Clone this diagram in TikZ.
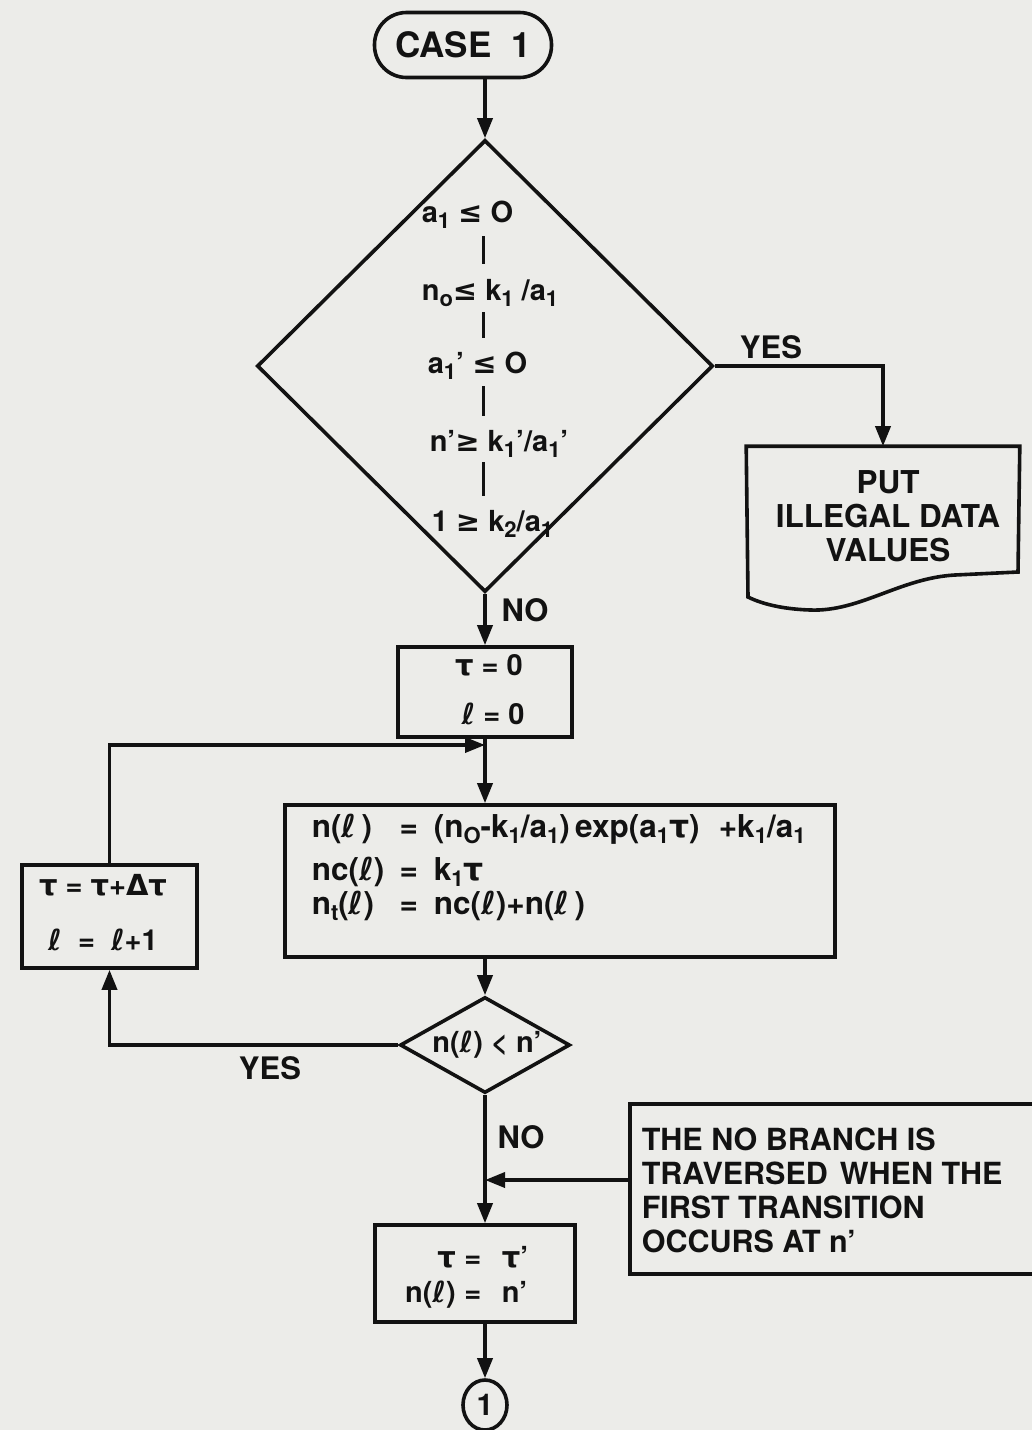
\documentclass[tikz,border=0pt]{standalone}
\usepackage{fontspec}
\setmainfont{TeX Gyre Heros}
\newfontfamily\dv{DejaVu Sans}
\usetikzlibrary{shapes.geometric,arrows.meta,calc}
\definecolor{paper}{RGB}{236,236,233}
\definecolor{ink}{RGB}{18,18,18}
\newcommand{\lo}[1]{\raisebox{-0.22em}{\fontsize{22}{22}\selectfont #1}}
\newcommand{\sy}[1]{{\dv #1}}
\newcommand{\el}{{\dv ℓ}}
\begin{document}
\begin{tikzpicture}[x=1pt,y=-1pt,line width=3.6pt,color=ink,
  box/.style={draw,rectangle,inner sep=0pt},
  arr/.style={-{Triangle[length=20pt,width=15pt]}},
  lab/.style={font=\fontsize{31}{34}\selectfont\bfseries,inner sep=0pt},
  txt/.style={font=\fontsize{29}{33}\selectfont\bfseries,inner sep=0pt},
  btxt/.style={font=\fontsize{31.5}{33}\selectfont\bfseries,inner sep=0pt}]
\fill[paper] (0,0) rectangle (1032,1430);
\useasboundingbox (0,0) rectangle (1032,1430);
\clip (0,0) rectangle (1032,1430);

% terminal
\node[box,rounded corners=32pt,minimum width=177pt,minimum height=65pt,
  font=\fontsize{35}{40}\selectfont\bfseries] (case) at (463,45) {CASE\ \ 1};

% big decision
\node[draw,diamond,minimum width=456pt,minimum height=452pt,inner sep=0pt] (dia) at (485,366) {};
\node[txt,anchor=base west] (c1) at (420,222) {a\lo{1} \sy{≤} O};
\node[txt,anchor=base west] (c2) at (420,300) {n\lo{o}\sy{≤} k\lo{1} /a\lo{1}};
\node[txt,anchor=base west] (c3) at (426,373) {a\lo{1}' \sy{≤} O};
\node[txt,anchor=base west] (c4) at (428,451) {n'\sy{≥} k\lo{1}'/a\lo{1}'};
\node[txt,anchor=base west] (c5) at (430,531) {1 \sy{≥} k\lo{2}/a\lo{1}};
\draw[line width=3pt] (483,236) -- (483,264);
\draw[line width=3pt] (483,312) -- (483,338);
\draw[line width=3pt] (483,386) -- (483,416);
\draw[line width=3pt] (483,462) -- (483,496);
\node[lab] (yes1) at (771,347) {YES};
\node[lab] (no1) at (525,610) {NO};

% illegal data document
\node[minimum width=270pt,minimum height=124pt,inner sep=0pt] (put) at (883,510) {};
\draw (put.north west) -- (put.north east) -- (1018,572) -- (955,575)
  .. controls (900,578) and (860,612) .. (810,610)
  .. controls (780,609) and (760,603) .. (748,597) -- cycle;
\node[lab,align=center,font=\fontsize{31.5}{34}\selectfont\bfseries] (putt) at (888,516) {PUT\\ILLEGAL\ DATA\\VALUES};

% tau = 0, l = 0
\node[box,minimum width=174pt,minimum height=90pt] (b1) at (485,692) {};
\node[txt,anchor=base] (b1a) at (489,675) {\sy{τ} = 0};
\node[txt,anchor=base] (b1b) at (493,724) {\el\ = 0};

% main computation
\node[box,minimum width=550pt,minimum height=152pt] (big) at (560,881) {};
\node[btxt,anchor=base west] (l1) at (310,837) {\makebox[84pt][l]{n(\el\,)}\makebox[26pt][c]{=}\hspace{12pt}(n\lo{O}-k\lo{1}/a\lo{1})\,exp(a\lo{1}\sy{τ})\,\, +k\lo{1}/a\lo{1}};
\node[btxt,anchor=base west] (l2) at (310,880) {\makebox[84pt][l]{nc(\el)}\makebox[26pt][c]{=}\hspace{12pt}k\lo{1}\sy{τ}};
\node[btxt,anchor=base west] (l3) at (310,914) {\makebox[84pt][l]{n\lo{t}(\el)}\makebox[26pt][c]{=}\hspace{12pt}nc(\el)+n(\el\,)};

% increment box
\node[box,minimum width=175pt,minimum height=103pt] (b2) at (109.5,916.5) {};
\node[txt,anchor=base] (b2a) at (103,895) {\sy{τ} = \sy{τ}+\sy{Δτ}};
\node[txt,anchor=base] (b2b) at (103,950) {\el\ \ = \ \el+1};

% small decision
\node[draw,diamond,minimum width=170pt,minimum height=96pt,inner sep=0pt] (sd) at (485,1045) {};
\node[txt] (sdt) at (487,1045) {n(\el) < n'};
\node[lab] (yes2) at (270,1068) {YES};
\node[lab] (no2) at (521,1137) {NO};

% note
\node[box,anchor=north west,minimum width=440pt,minimum height=170pt] (note) at (628,1102) {};
\node[anchor=north west,align=left,inner sep=0pt,font=\fontsize{30.5}{34}\selectfont\bfseries] (notet) at (640,1126)
  {THE NO BRANCH IS\\TRAVERSED\hspace{12pt}WHEN THE\\FIRST TRANSITION\\OCCURS AT n'};

% final box
\node[box,minimum width=200pt,minimum height=97pt] (b3) at (475,1273.5) {};
\node[txt,anchor=base west] (b3a) at (390,1267) {\makebox[64pt][r]{\sy{τ}}\makebox[34pt][c]{=}\hspace{12pt}\sy{τ}'};
\node[txt,anchor=base west] (b3b) at (390,1302) {\makebox[64pt][r]{n(\el)}\makebox[34pt][c]{=}\hspace{12pt}n'};

% connector
\node[draw,ellipse,minimum width=44pt,minimum height=50pt,inner sep=0pt,
  font=\fontsize{30}{30}\selectfont\bfseries] (con) at (485,1405) {1};

% connectors
\coordinate (lj) at (485,745);
\coordinate (nj) at (485,1180);
\draw[arr] (case.south -| dia.north) -- (dia.north);
\draw[arr] (dia.east) -| (put.north);
\draw[arr] (dia.south) -- (b1.north);
\draw[arr] (b1.south) -- (big.north -| b1.south);
\draw[arr] (b2.north) |- (lj);
\draw[arr] (big.south -| sd.north) -- (sd.north);
\draw[arr] (sd.west) -| (b2.south);
\draw[arr] (sd.south) -- (b3.north -| sd.south);
\draw[arr] (note.west |- nj) -- (nj);
\draw[arr] (b3.south -| sd.south) -- (con.north);
\end{tikzpicture}
\end{document}
